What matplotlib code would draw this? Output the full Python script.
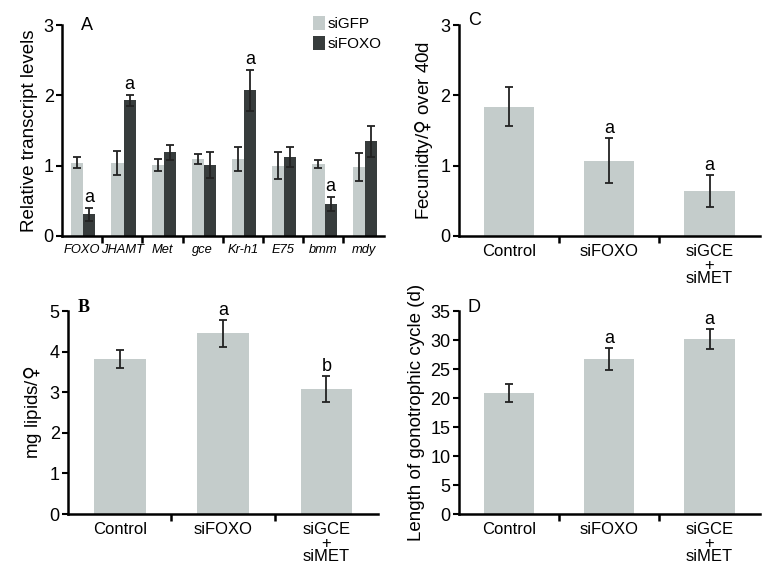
import numpy as np
import matplotlib.pyplot as plt

plt.rcParams['font.family'] = ['Liberation Sans', 'DejaVu Sans']
plt.rcParams['mathtext.fontset'] = 'dejavusans'

light = '#c4cccb'
dark = '#373c3c'

# panel A
genes = ['FOXO', 'JHAMT', 'Met', 'gce', 'Kr-h1', 'E75', 'bmm', 'mdy']
gfp = [1.04, 1.04, 1.01, 1.10, 1.09, 1.00, 1.02, 0.98]
gfp_err = [0.08, 0.17, 0.08, 0.07, 0.17, 0.19, 0.06, 0.20]
foxo = [0.31, 1.93, 1.19, 1.01, 2.07, 1.12, 0.45, 1.35]
foxo_err = [0.09, 0.08, 0.11, 0.19, 0.29, 0.14, 0.10, 0.22]
foxo_sig = ['a', 'a', '', '', 'a', '', 'a', '']

# panels B, C, D
groups = ['Control', 'siFOXO', 'siGCE\n+\nsiMET']
lipids = [3.82, 4.45, 3.07]
lipids_err = [0.21, 0.33, 0.32]
lipids_sig = ['', 'a', 'b']
fecund = [1.84, 1.07, 0.64]
fecund_err = [0.28, 0.32, 0.23]
fecund_sig = ['', 'a', 'a']
cycle = [20.9, 26.8, 30.2]
cycle_err = [1.6, 1.9, 1.7]
cycle_sig = ['', 'a', 'a']

fig = plt.figure(figsize=(7.62, 5.7), dpi=100)


def style(ax, n):
    ax.spines['top'].set_visible(False)
    ax.spines['right'].set_visible(False)
    for s in ('left', 'bottom'):
        ax.spines[s].set_linewidth(1.8)
    ax.set_xlim(-0.5, n - 0.5)
    ax.set_xticks(np.arange(n - 1) + 0.5)
    ax.set_xticklabels([])
    ax.tick_params(axis='x', which='major', length=5, width=1.8, direction='out')
    ax.tick_params(axis='y', length=4, width=1.5, labelsize=13, pad=2)
    ax.set_xticks(np.arange(n), minor=True)
    ax.tick_params(axis='x', which='minor', length=0, labelsize=11.5, pad=6)


axA = fig.add_axes([0.0814, 0.586, 0.422, 0.370])
x = np.arange(len(genes))
w = 0.3
axA.bar(x - 0.12, gfp, w, color=light, label='siGFP')
axA.bar(x + 0.18, foxo, w, color=dark, label='siFOXO')
axA.errorbar(x - 0.12, gfp, yerr=gfp_err, fmt='none', ecolor='#222', elinewidth=1.3, capsize=3, capthick=1.3)
axA.errorbar(x + 0.18, foxo, yerr=foxo_err, fmt='none', ecolor='#222', elinewidth=1.3, capsize=3, capthick=1.3)
for i, s in enumerate(foxo_sig):
    if s:
        axA.text(x[i] + 0.18, foxo[i] + foxo_err[i] + 0.03, s, ha='center', va='bottom', fontsize=13)
style(axA, len(genes))
axA.set_ylim(0, 3)
axA.set_yticks([0, 1, 2, 3])
axA.set_xticklabels(genes, minor=True, style='italic', fontsize=9.3)
axA.set_ylabel('Relative transcript levels', fontsize=13.5, labelpad=4)
axA.text(0.06, 1.0, 'A', transform=axA.transAxes, fontsize=13, va='center')
axA.legend(loc='upper left', bbox_to_anchor=(0.76, 1.07), frameon=False, fontsize=11,
           handlelength=0.8, handleheight=1.0, handletextpad=0.2, labelspacing=0.3,
           borderaxespad=0)


def simple(rect, vals, errs, sig, ylim, yticks, ylabel, letter, letter_font):
    ax = fig.add_axes(rect)
    xs = np.arange(len(groups))
    ax.bar(xs, vals, 0.5, color=light)
    ax.errorbar(xs, vals, yerr=errs, fmt='none', ecolor='#222', elinewidth=1.3, capsize=3, capthick=1.3)
    for i, s in enumerate(sig):
        if s:
            ax.text(xs[i], vals[i] + errs[i] + ylim * 0.005, s, ha='center', va='bottom', fontsize=13)
    style(ax, len(groups))
    ax.set_ylim(0, ylim)
    ax.set_yticks(yticks)
    ax.set_xticklabels(groups, minor=True, fontsize=12, linespacing=0.85, va='top')
    ax.set_ylabel(ylabel, fontsize=13.5, labelpad=4)
    ax.text(0.03, 1.02, letter, transform=ax.transAxes, fontsize=13, va='center', **letter_font)
    return ax


simple([0.0892, 0.0982, 0.407, 0.356], lipids, lipids_err, lipids_sig, 5, [0, 1, 2, 3, 4, 5],
       r'mg lipids/$\mathrm{♀}$', 'B', {'family': 'Liberation Serif', 'weight': 'bold'})
simple([0.602, 0.586, 0.395, 0.370], fecund, fecund_err, fecund_sig, 3, [0, 1, 2, 3],
       r'Fecunidty/$\mathrm{♀}$ over 40d', 'C', {})
simple([0.602, 0.0982, 0.395, 0.356], cycle, cycle_err, cycle_sig, 35, np.arange(0, 36, 5),
       'Length of gonotrophic cycle (d)', 'D', {})

fig.savefig('out.png', dpi=100)
